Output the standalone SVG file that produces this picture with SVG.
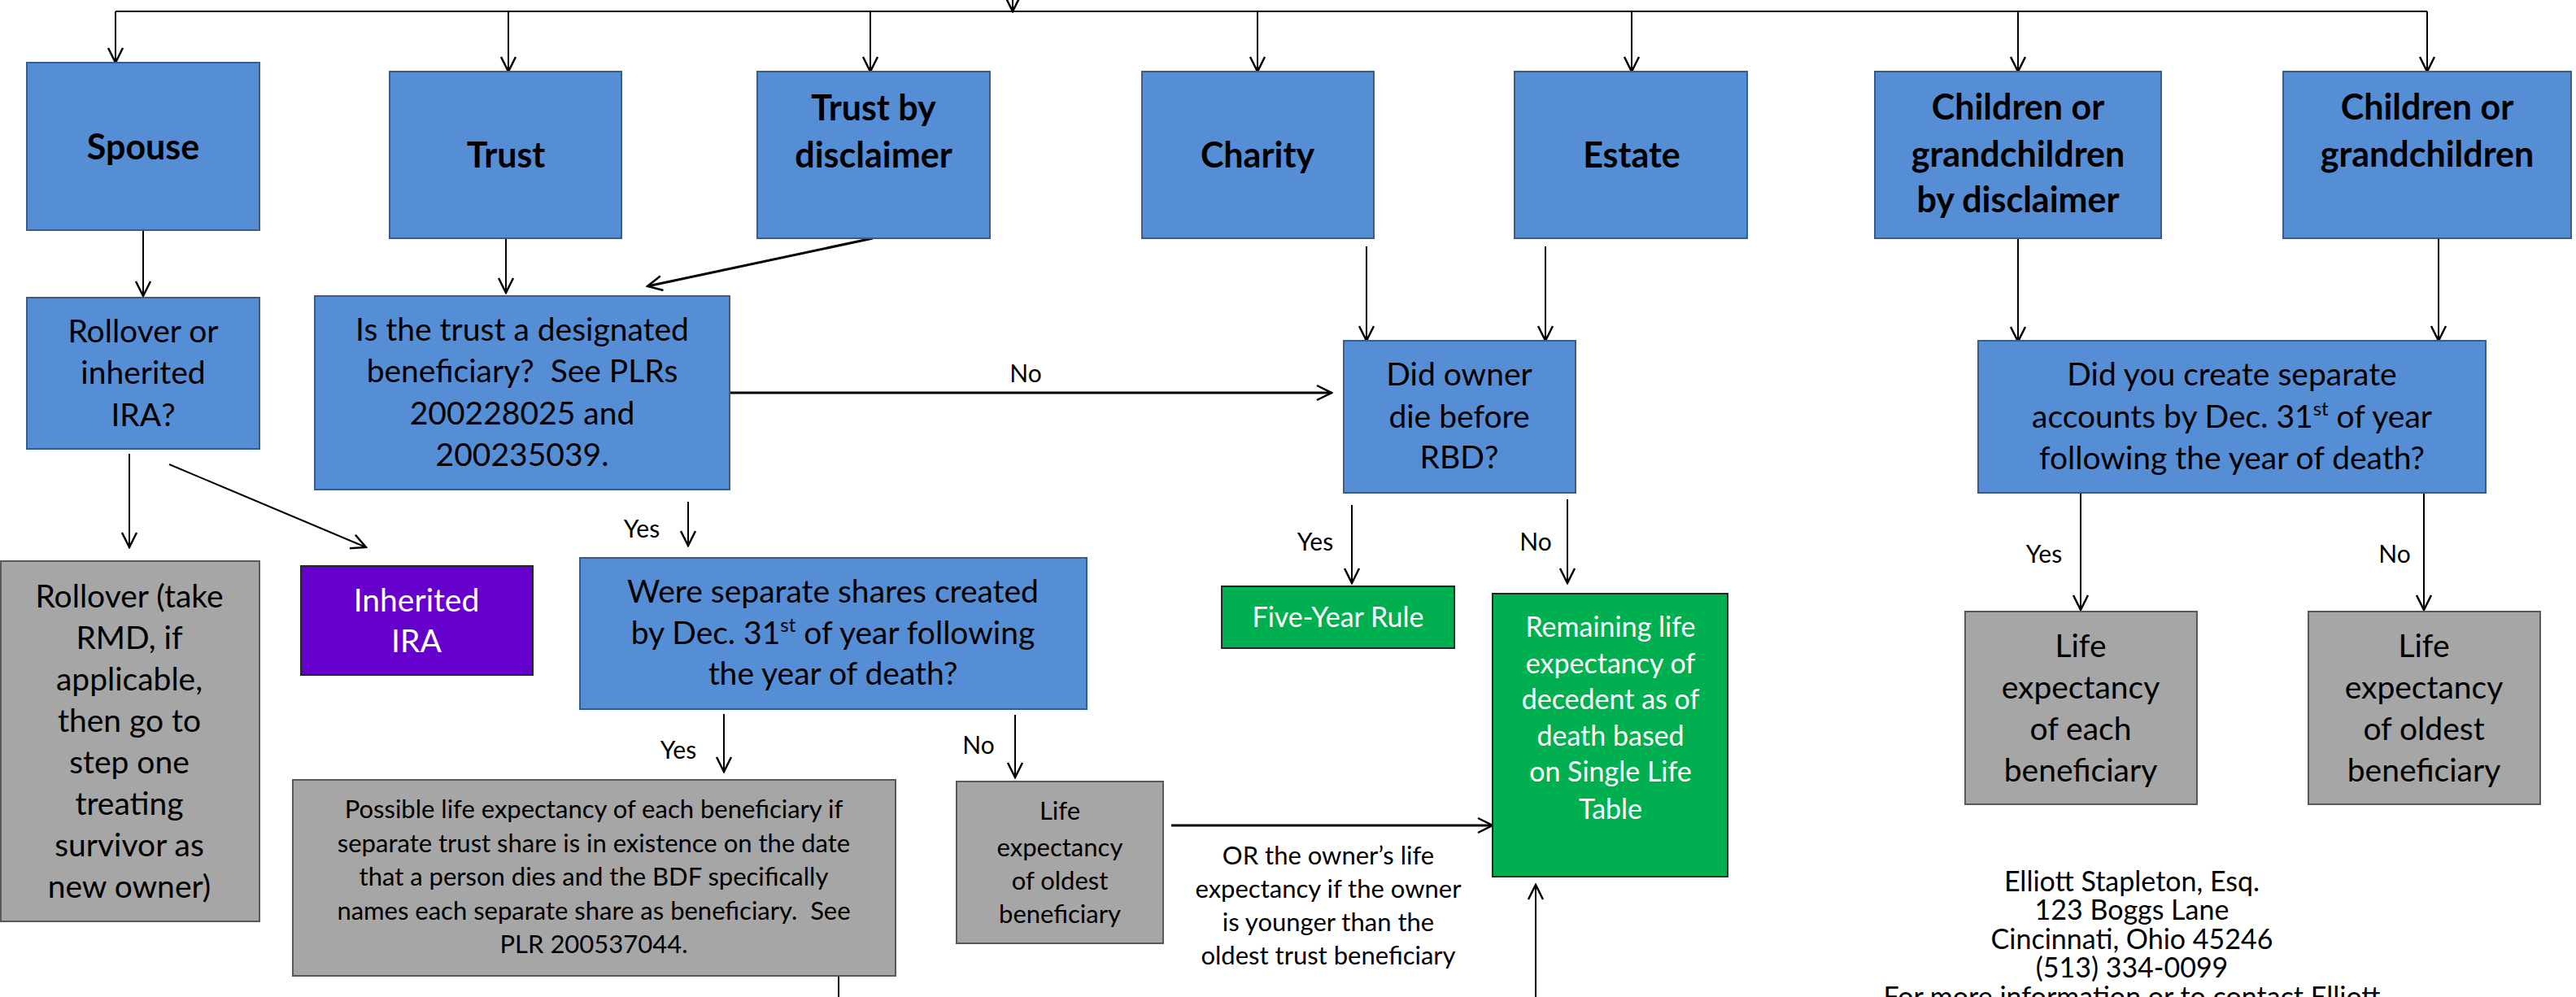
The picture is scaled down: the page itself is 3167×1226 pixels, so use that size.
<svg xmlns="http://www.w3.org/2000/svg" width="3167" height="1226" viewBox="0 0 3167 1226">
<defs>
<style>
text{font-family:Lato,"Liberation Sans",sans-serif;fill:#000;text-anchor:middle}
.h{font-weight:bold;font-size:43px}
.b{font-size:39px}
.s{font-size:31px}
.r{font-size:34px}
.l{font-size:30px}
.w{fill:#fff}
.blue{fill:#558ED5;stroke:#385D8A;stroke-width:2}
.gray{fill:#A6A6A6;stroke:#595959;stroke-width:2}
.green{fill:#00B050;stroke:#262626;stroke-width:2}
.purple{fill:#6600CC;stroke:#262626;stroke-width:2}
.c{fill:none;stroke:#000;stroke-width:2}
.c3{fill:none;stroke:#000;stroke-width:3}
.a{marker-end:url(#ah)}
</style>
<marker id="ah" markerUnits="userSpaceOnUse" viewBox="-22 -12 24 24" markerWidth="24" markerHeight="24" refX="0" refY="0" orient="auto">
<path d="M-18,-9 L0,0 L-18,9" fill="none" stroke="#000" stroke-width="2.5"/>
</marker>
</defs>
<rect width="3167" height="1226" fill="#fff"/>

<g id="connectors">
<path class="c a" d="M1245,-10 V14"/>
<path class="c" d="M142,14 H2984"/>
<path class="c a" d="M142,14 V77"/>
<path class="c a" d="M625,14 V88"/>
<path class="c a" d="M1070,14 V88"/>
<path class="c a" d="M1546,14 V88"/>
<path class="c a" d="M2006,14 V88"/>
<path class="c a" d="M2481,14 V88"/>
<path class="c a" d="M2984,14 V88"/>
<path class="c a" d="M176,283 V364"/>
<path class="c a" d="M622,293 V360"/>
<path class="c3 a" d="M1073,293 L796,352"/>
<path class="c a" d="M159,558 V673"/>
<path class="c a" d="M208,571 L450,673"/>
<path class="c3 a" d="M897,483 H1637"/>
<path class="c a" d="M846,617 V671"/>
<path class="c a" d="M1680,303 V419"/>
<path class="c a" d="M1900,303 V419"/>
<path class="c a" d="M2481,293 V420"/>
<path class="c a" d="M2998,293 V419"/>
<path class="c a" d="M1662,621 V717"/>
<path class="c a" d="M1927,614 V717"/>
<path class="c a" d="M2558,605 V750"/>
<path class="c a" d="M2980,605 V750"/>
<path class="c a" d="M890,878 V949"/>
<path class="c a" d="M1248,879 V956"/>
<path class="c3 a" d="M1440,1015 H1835"/>
<path class="c" d="M1031,1200 V1230"/>
<path class="c a" d="M1888,1230 V1088"/>
<text class="l" x="1261" y="470">No</text>
<text class="l" x="789" y="661">Yes</text>
<text class="l" x="834" y="933">Yes</text>
<text class="l" x="1203" y="927">No</text>
<text class="l" x="1617" y="677">Yes</text>
<text class="l" x="1888" y="677">No</text>
<text class="l" x="2513" y="692">Yes</text>
<text class="l" x="2944" y="692">No</text>
<text class="s" x="1633" y="1063">OR the owner’s life</text>
<text class="s" x="1633" y="1104">expectancy if the owner</text>
<text class="s" x="1633" y="1145">is younger than the</text>
<text class="s" x="1633" y="1186">oldest trust beneficiary</text>
</g>

<g id="n-spouse">
<rect class="blue" x="33" y="77" width="286" height="206"/>
<text class="h" x="176" y="196">Spouse</text>
</g>
<g id="n-trust">
<rect class="blue" x="479" y="88" width="285" height="205"/>
<text class="h" x="622" y="206">Trust</text>
</g>
<g id="n-trust-disclaimer">
<rect class="blue" x="931" y="88" width="286" height="205"/>
<text class="h" x="1074" y="148">Trust by</text>
<text class="h" x="1074" y="206">disclaimer</text>
</g>
<g id="n-charity">
<rect class="blue" x="1404" y="88" width="285" height="205"/>
<text class="h" x="1546" y="206">Charity</text>
</g>
<g id="n-estate">
<rect class="blue" x="1862" y="88" width="286" height="205"/>
<text class="h" x="2006" y="206">Estate</text>
</g>
<g id="n-children-disclaimer">
<rect class="blue" x="2305" y="88" width="352" height="205"/>
<text class="h" x="2481" y="147">Children or</text>
<text class="h" x="2481" y="205">grandchildren</text>
<text class="h" x="2481" y="261">by disclaimer</text>
</g>
<g id="n-children">
<rect class="blue" x="2807" y="88" width="354" height="205"/>
<text class="h" x="2984" y="147">Children or</text>
<text class="h" x="2984" y="205">grandchildren</text>
</g>

<g id="n-rollover-question">
<rect class="blue" x="33" y="366" width="286" height="186"/>
<text class="b" x="176" y="421">Rollover or</text>
<text class="b" x="176" y="472">inherited</text>
<text class="b" x="176" y="524">IRA?</text>
</g>
<g id="n-trust-question">
<rect class="blue" x="387" y="364" width="510" height="238"/>
<text class="b" x="642" y="419">Is the trust a designated</text>
<text class="b" x="642" y="470" xml:space="preserve">beneficiary?  See PLRs</text>
<text class="b" x="642" y="522">200228025 and</text>
<text class="b" x="642" y="573">200235039.</text>
</g>
<g id="n-owner-question">
<rect class="blue" x="1652" y="419" width="285" height="187"/>
<text class="b" x="1794" y="474">Did owner</text>
<text class="b" x="1794" y="526">die before</text>
<text class="b" x="1794" y="576">RBD?</text>
</g>
<g id="n-accounts-question">
<rect class="blue" x="2432" y="419" width="624" height="187"/>
<text class="b" x="2744" y="474">Did you create separate</text>
<text class="b" x="2744" y="526">accounts by Dec. 31<tspan font-size="24" dy="-15">st</tspan><tspan dy="15"> of year</tspan></text>
<text class="b" x="2744" y="577">following the year of death?</text>
</g>

<g id="n-rollover">
<rect class="gray" x="1" y="690" width="318" height="443"/>
<text class="b" x="159" y="747">Rollover (take</text>
<text class="b" x="159" y="798">RMD, if</text>
<text class="b" x="159" y="849">applicable,</text>
<text class="b" x="159" y="900">then go to</text>
<text class="b" x="159" y="951">step one</text>
<text class="b" x="159" y="1002">treating</text>
<text class="b" x="159" y="1053">survivor as</text>
<text class="b" x="159" y="1104">new owner)</text>
</g>
<g id="n-inherited">
<rect class="purple" x="370" y="696" width="285" height="134"/>
<text class="b w" x="512" y="752">Inherited</text>
<text class="b w" x="512" y="802">IRA</text>
</g>
<g id="n-shares-question">
<rect class="blue" x="713" y="686" width="623" height="186"/>
<text class="b" x="1024" y="741">Were separate shares created</text>
<text class="b" x="1024" y="792">by Dec. 31<tspan font-size="24" dy="-15">st</tspan><tspan dy="15"> of year following</tspan></text>
<text class="b" x="1024" y="842">the year of death?</text>
</g>
<g id="n-five-year">
<rect class="green" x="1502" y="721" width="286" height="76"/>
<text class="r w" x="1645" y="771">Five-Year Rule</text>
</g>
<g id="n-remaining">
<rect class="green" x="1835" y="730" width="289" height="348"/>
<text class="r w" x="1980" y="783">Remaining life</text>
<text class="r w" x="1980" y="828">expectancy of</text>
<text class="r w" x="1980" y="872">decedent as of</text>
<text class="r w" x="1980" y="917">death based</text>
<text class="r w" x="1980" y="961">on Single Life</text>
<text class="r w" x="1980" y="1007">Table</text>
</g>
<g id="n-each">
<rect class="gray" x="2416" y="752" width="285" height="237"/>
<text class="b" x="2558" y="808">Life</text>
<text class="b" x="2558" y="859">expectancy</text>
<text class="b" x="2558" y="910">of each</text>
<text class="b" x="2558" y="961">beneficiary</text>
</g>
<g id="n-oldest-right">
<rect class="gray" x="2838" y="752" width="285" height="237"/>
<text class="b" x="2980" y="808">Life</text>
<text class="b" x="2980" y="859">expectancy</text>
<text class="b" x="2980" y="910">of oldest</text>
<text class="b" x="2980" y="961">beneficiary</text>
</g>
<g id="n-possible">
<rect class="gray" x="360" y="959" width="741" height="241"/>
<text class="s" x="730" y="1006">Possible life expectancy of each beneficiary if</text>
<text class="s" x="730" y="1048">separate trust share is in existence on the date</text>
<text class="s" x="730" y="1089">that a person dies and the BDF specifically</text>
<text class="s" x="730" y="1131" xml:space="preserve">names each separate share as beneficiary.  See</text>
<text class="s" x="730" y="1172">PLR 200537044.</text>
</g>
<g id="n-oldest-mid">
<rect class="gray" x="1176" y="961" width="254" height="199"/>
<text class="s" x="1303" y="1008">Life</text>
<text class="s" x="1303" y="1053">expectancy</text>
<text class="s" x="1303" y="1094">of oldest</text>
<text class="s" x="1303" y="1135">beneficiary</text>
</g>
<g id="address">
<text class="r" x="2621" y="1096">Elliott Stapleton, Esq.</text>
<text class="r" x="2621" y="1131">123 Boggs Lane</text>
<text class="r" x="2621" y="1167">Cincinnati, Ohio 45246</text>
<text class="r" x="2621" y="1202">(513) 334-0099</text>
<text class="r" x="2621" y="1238">For more information or to contact Elliott</text>
</g>
</svg>
